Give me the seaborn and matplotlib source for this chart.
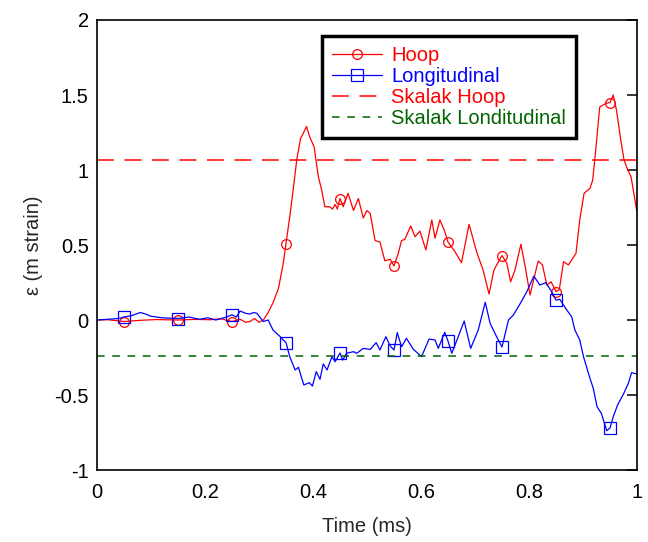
import numpy as np
import pandas as pd
import matplotlib
matplotlib.use("Agg")
import matplotlib.pyplot as plt
import seaborn as sns

# Hoop strain trace (m strain) vs time (ms)
hoop_t = [0.000, 0.020, 0.050, 0.080, 0.110, 0.150, 0.180, 0.210, 0.230, 0.250,
          0.265, 0.275, 0.283, 0.292, 0.300, 0.308, 0.317, 0.326, 0.336, 0.345,
          0.350, 0.357, 0.364, 0.370, 0.377, 0.382, 0.388, 0.394, 0.402, 0.410,
          0.416, 0.422, 0.431, 0.436, 0.441, 0.445, 0.450, 0.456, 0.465, 0.475,
          0.484, 0.493, 0.500, 0.506, 0.515, 0.524, 0.533, 0.543, 0.550, 0.558,
          0.564, 0.570, 0.581, 0.589, 0.598, 0.609, 0.620, 0.626, 0.635, 0.643,
          0.650, 0.663, 0.675, 0.689, 0.703, 0.715, 0.726, 0.735, 0.750, 0.759,
          0.766, 0.774, 0.785, 0.793, 0.802, 0.810, 0.817, 0.825, 0.833, 0.841,
          0.850, 0.856, 0.864, 0.873, 0.887, 0.894, 0.902, 0.913, 0.918, 0.923,
          0.931, 0.943, 0.950, 0.956, 0.962, 0.970, 0.976, 0.983, 0.989, 1.000]
hoop_y = [0.000, 0.002, -0.010, -0.002, 0.003, 0.000, 0.004, 0.002, 0.008, -0.010,
          0.005, -0.015, -0.010, 0.010, -0.015, 0.000, 0.050, 0.115, 0.210, 0.380,
          0.510, 0.690, 0.890, 1.070, 1.210, 1.245, 1.290, 1.220, 1.155, 0.955,
          0.867, 0.755, 0.755, 0.740, 0.770, 0.740, 0.810, 0.755, 0.845, 0.730,
          0.810, 0.680, 0.730, 0.710, 0.530, 0.520, 0.395, 0.405, 0.360, 0.445,
          0.530, 0.537, 0.627, 0.555, 0.593, 0.467, 0.667, 0.545, 0.667, 0.600,
          0.520, 0.455, 0.382, 0.638, 0.455, 0.333, 0.173, 0.333, 0.430, 0.378,
          0.255, 0.333, 0.505, 0.355, 0.167, 0.289, 0.393, 0.367, 0.233, 0.255,
          0.190, 0.200, 0.389, 0.367, 0.444, 0.667, 0.845, 0.878, 0.933, 1.110,
          1.420, 1.445, 1.450, 1.500, 1.400, 1.200, 1.067, 1.000, 0.955, 0.720]

# Longitudinal strain trace
long_t = [0.000, 0.020, 0.040, 0.050, 0.065, 0.080, 0.090, 0.100, 0.120, 0.150,
          0.170, 0.190, 0.205, 0.220, 0.240, 0.250, 0.258, 0.265, 0.275, 0.283,
          0.290, 0.296, 0.308, 0.317, 0.326, 0.339, 0.344, 0.350, 0.357, 0.367,
          0.373, 0.383, 0.393, 0.399, 0.406, 0.413, 0.419, 0.426, 0.435, 0.441,
          0.450, 0.455, 0.462, 0.475, 0.481, 0.493, 0.506, 0.517, 0.524, 0.535,
          0.543, 0.550, 0.556, 0.564, 0.573, 0.586, 0.601, 0.615, 0.626, 0.632,
          0.644, 0.650, 0.657, 0.669, 0.680, 0.692, 0.706, 0.719, 0.728, 0.740,
          0.750, 0.762, 0.771, 0.783, 0.796, 0.809, 0.820, 0.831, 0.842, 0.850,
          0.857, 0.870, 0.879, 0.885, 0.894, 0.901, 0.912, 0.919, 0.926, 0.934,
          0.944, 0.950, 0.956, 0.964, 0.975, 0.984, 0.990, 1.000]
long_y = [0.000, 0.005, 0.010, 0.020, 0.030, 0.050, 0.040, 0.025, 0.015, 0.010,
          0.020, 0.005, 0.015, 0.000, 0.020, 0.035, 0.020, 0.060, 0.045, 0.040,
          0.050, 0.045, -0.010, 0.000, -0.067, -0.110, -0.130, -0.150, -0.245, -0.333,
          -0.315, -0.433, -0.418, -0.440, -0.344, -0.395, -0.293, -0.333, -0.245, -0.278,
          -0.220, -0.267, -0.222, -0.211, -0.222, -0.189, -0.196, -0.151, -0.200, -0.111,
          -0.173, -0.200, -0.084, -0.178, -0.122, -0.196, -0.244, -0.127, -0.133, -0.189,
          -0.082, -0.140, -0.222, -0.111, -0.007, -0.189, -0.067, 0.118, -0.022, -0.111,
          -0.180, 0.000, 0.033, 0.105, 0.189, 0.293, 0.233, 0.249, 0.189, 0.133,
          0.138, 0.067, 0.022, -0.067, -0.133, -0.245, -0.378, -0.455, -0.578, -0.622,
          -0.738, -0.720, -0.645, -0.567, -0.493, -0.422, -0.351, -0.360]

marker_t = [0.05, 0.15, 0.25, 0.35, 0.45, 0.55, 0.65, 0.75, 0.85, 0.95]

skalak_hoop = 1.065
skalak_long = -0.24

sns.set_style("white")
plt.rcParams['font.family'] = ['Liberation Sans', 'DejaVu Sans']

hoop = pd.DataFrame({'t': hoop_t, 'eps': hoop_y})
longi = pd.DataFrame({'t': long_t, 'eps': long_y})
hoop_marks = list(np.where(np.isin(np.round(hoop['t'], 3), marker_t))[0])
long_marks = list(np.where(np.isin(np.round(longi['t'], 3), marker_t))[0])

fig = plt.figure(figsize=(6.48, 5.42), dpi=100)
ax = fig.add_axes([0.1497, 0.1328, 0.8333, 0.8303])

sns.lineplot(data=hoop, x='t', y='eps', ax=ax, estimator=None, sort=False,
             color='#ff0000', lw=0.9, marker='o', markevery=hoop_marks,
             ms=7, mfc='none', mec='#ff0000', mew=0.9, label='Hoop')
sns.lineplot(data=longi, x='t', y='eps', ax=ax, estimator=None, sort=False,
             color='#0000ff', lw=0.9, marker='s', markevery=long_marks,
             ms=8, mfc='none', mec='#0000ff', mew=0.9, label='Longitudinal')
ax.axhline(skalak_hoop, color='#ff0000', lw=1.1, dashes=(11, 7), label='Skalak Hoop')
ax.axhline(skalak_long, color='#006400', lw=1.1, dashes=(5, 5), label='Skalak Londitudinal')

ax.set_xlim(0, 1)
ax.set_ylim(-1, 2)
ax.set_xticks([0, 0.2, 0.4, 0.6, 0.8, 1])
ax.set_xticklabels(['0', '0.2', '0.4', '0.6', '0.8', '1'])
ax.set_yticks([-1, -0.5, 0, 0.5, 1, 1.5, 2])
ax.set_yticklabels(['-1', '-0.5', '0', '0.5', '1', '1.5', '2'])
ax.tick_params(direction='in', length=7, width=1.1, labelsize=14.5,
               right=True, top=False, colors='black')
ax.tick_params(axis='x', pad=9)
ax.tick_params(axis='y', pad=6)
for s in ax.spines.values():
    s.set_color('black')
    s.set_linewidth(1.2)

ax.set_xlabel('Time (ms)', fontsize=14.5, labelpad=11)
ax.set_ylabel('ε (m strain)', fontsize=14.5, labelpad=8)

leg = ax.legend(loc='upper left', bbox_to_anchor=(0.4167, 0.964), fontsize=14.5,
                labelcolor='linecolor', frameon=True, fancybox=False,
                framealpha=1, edgecolor='black', handlelength=2.5,
                handletextpad=0.45, labelspacing=0.1, borderpad=0.5,
                borderaxespad=0)
leg.get_frame().set_linewidth(2.5)

fig.savefig('out.png', dpi=100)
